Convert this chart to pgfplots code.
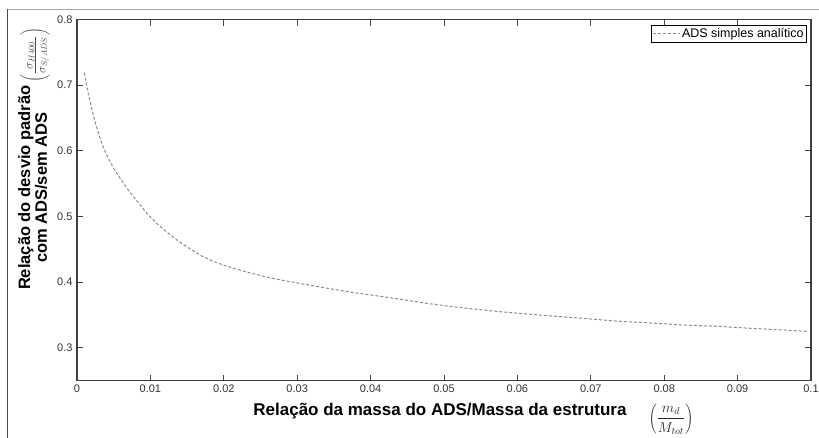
\documentclass[border=0pt]{standalone}
\usepackage{pgfplots}
\pgfplotsset{compat=1.18}
\usepackage{fontspec}
\setmainfont{Liberation Sans}

% standard-deviation ratio of the structure with/without the damper
\pgfplotstableread{
x       y
0.0010  0.719
0.0013  0.700
0.0016  0.684
0.0020  0.664
0.0025  0.643
0.0030  0.624
0.0036  0.605
0.0043  0.588
0.0050  0.573
0.0060  0.556
0.0070  0.540
0.0080  0.526
0.0095  0.505
0.0110  0.488
0.0125  0.474
0.0140  0.461
0.0155  0.450
0.0170  0.440
0.0185  0.432
0.0202  0.425
0.0220  0.419
0.0240  0.413
0.0270  0.405
0.0304  0.398
0.0340  0.391
0.0372  0.385
0.0410  0.379
0.0441  0.374
0.0475  0.368
0.0509  0.363
0.0550  0.358
0.0577  0.355
0.0641  0.349
0.0700  0.344
0.0732  0.341
0.0780  0.338
0.0823  0.335
0.0870  0.333
0.0914  0.330
0.0950  0.328
0.0995  0.325
}\adsdata

\begin{document}
\begin{tikzpicture}
\useasboundingbox (0pt,0pt) rectangle (819pt,437pt);
\fill[white] (0pt,0pt) rectangle (819pt,437pt);
% window frame
\draw[black!35, line width=1pt] (7pt,427pt) -- (830pt,427pt);
\draw[black!70, line width=1pt] (7pt,-5pt) -- (7pt,427.5pt);

\begin{axis}[
  at={(77pt,56.3pt)}, anchor=south west,
  scale only axis, width=734pt, height=361.2pt,
  xmin=0, xmax=0.1, ymin=0.25, ymax=0.8,
  xtick={0,0.01,0.02,0.03,0.04,0.05,0.06,0.07,0.08,0.09,0.1},
  xticklabels={0,0.01,0.02,0.03,0.04,0.05,0.06,0.07,0.08,0.09,0.1},
  ytick={0.3,0.4,0.5,0.6,0.7,0.8},
  yticklabels={0.3,0.4,0.5,0.6,0.7,0.8},
  scaled x ticks=false, scaled y ticks=false,
  tick align=inside, major tick length=6pt,
  axis line style={black!75, line width=1.1pt},
  tick style={black!75, line width=1pt},
  ticklabel style={font=\fontsize{11}{13}\selectfont, text=black!80},
  xticklabel style={yshift=-1pt},
  yticklabel style={xshift=-1pt},
  /pgf/number format/assume math mode=true,
  legend style={at={(1,1)}, anchor=north east, xshift=-4pt, yshift=-5.5pt,
    draw=black, line width=0.8pt, fill=white,
    font=\fontsize{12.5}{14}\selectfont, inner sep=1pt,
    row sep=0pt},
  legend cell align=left,
  legend image code/.code={\draw[#1] (0pt,0pt) -- (27pt,0pt);},
]
\addplot[black!45, line width=1pt, dash pattern=on 3pt off 2pt] table[x=x, y=y] {\adsdata};
\addlegendentry{ADS simples analítico}
\end{axis}

% axis titles
\node[font=\fontsize{17}{19}\bfseries\selectfont, inner sep=0pt] at (440pt,26pt)
  {Relação da massa do ADS/Massa da estrutura};
\node[inner sep=0pt, text=black!85, font=\fontsize{14.5}{16}\selectfont] at (671pt,18pt)
  {$\displaystyle\left(\frac{m_d}{M_{tot}}\right)$};
\node[rotate=90, inner sep=0pt] at (35pt,278pt)
  {{\fontsize{16.5}{16}\bfseries\selectfont
    \begin{tabular}{@{}c@{}}Relação do desvio padrão\\com ADS/sem ADS\end{tabular}}%
   \hspace{3pt}%
   {\color{black!70}\fontsize{17}{19}\selectfont
    $\left(\frac{\sigma_{H400}}{\sigma_{S/ADS}}\right)$}};
\end{tikzpicture}
\end{document}
